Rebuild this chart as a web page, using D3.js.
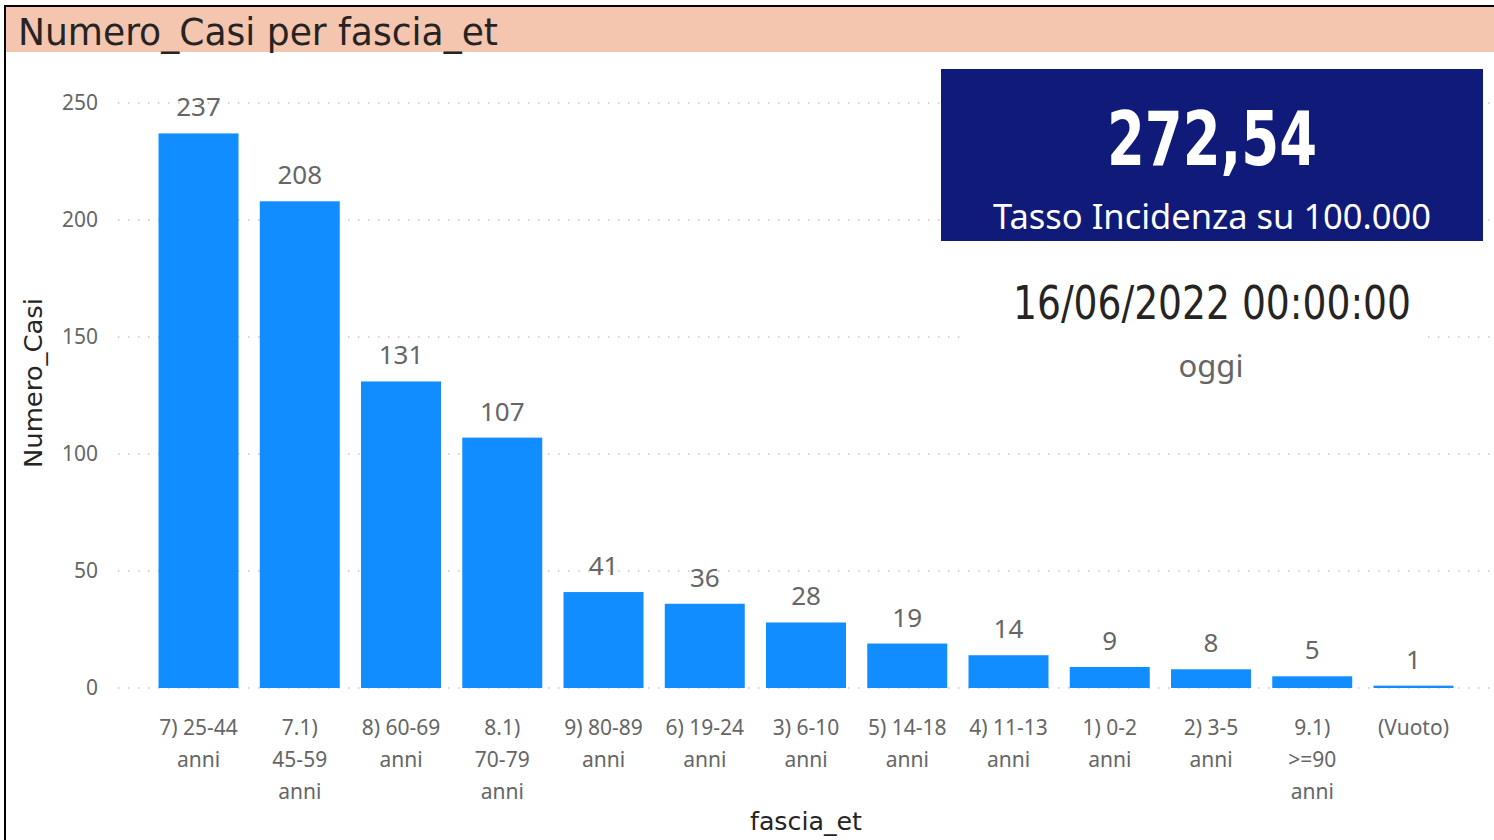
<!DOCTYPE html>
<html>
<head>
<meta charset="utf-8">
<script src="https://cdn.jsdelivr.net/npm/d3@7"></script>
<style>
	body { margin: 0; background: #fff; }
	svg { display: block; }
	.tick-label, .bar-label, .y-tick { font-family: "Segoe UI", "Noto Sans", sans-serif; fill: #666; }
	.din { font-family: "DejaVu Sans Condensed", "DejaVu Sans", sans-serif; }
</style>
</head>
<body>
<script>
// data
const categories = ["7) 25-44 anni", "7.1) 45-59 anni", "8) 60-69 anni", "8.1) 70-79 anni", "9) 80-89 anni",
	"6) 19-24 anni", "3) 6-10 anni", "5) 14-18 anni", "4) 11-13 anni", "1) 0-2 anni", "2) 3-5 anni",
	"9.1) >=90 anni", "(Vuoto)"];
const values = [237, 208, 131, 107, 41, 36, 28, 19, 14, 9, 8, 5, 1];
const yTicks = [0, 50, 100, 150, 200, 250];
const kpiValue = "272,54";
const kpiLabel = "Tasso Incidenza su 100.000";
const dateText = "16/06/2022 00:00:00";
const dateLabel = "oggi";

const W = 1494, H = 840;
const svg = d3.select("body").append("svg").attr("width", W).attr("height", H);

// frame + title band
svg.append("rect").attr("x", 5).attr("y", 6).attr("width", W + 10).attr("height", H + 10)
	.attr("fill", "#fff").attr("stroke", "#000").attr("stroke-width", 2);
svg.append("rect").attr("x", 6).attr("y", 7).attr("width", W).attr("height", 45).attr("fill", "#F4C5AF");
svg.append("text").attr("class", "din").attr("x", 18).attr("y", 45)
	.attr("font-size", 37).attr("fill", "#252423")
	.attr("textLength", 480).attr("lengthAdjust", "spacingAndGlyphs")
	.text("Numero_Casi per fascia_et");

// scales
const x = d3.scaleBand().domain(categories).range([148.4, 1463.6]).paddingInner(0.21).paddingOuter(0.1);
const y = d3.scaleLinear().domain([0, 250]).range([688, 103]);

// gridlines
svg.append("g")
	.selectAll("line").data(yTicks).enter()
	.append("line")
		.attr("x1", 118).attr("x2", 1492)
		.attr("y1", (d) => y(d)).attr("y2", (d) => y(d))
		.attr("stroke", "#c8c8c8").attr("stroke-width", 1.5)
		.attr("stroke-dasharray", "1.5,8.5");

svg.append("g")
	.selectAll("text").data(yTicks).enter()
	.append("text")
		.attr("class", "y-tick")
		.attr("x", 98).attr("y", (d) => y(d) + 7)
		.attr("text-anchor", "end").attr("font-size", 21)
		.text((d) => d);

// bars
svg.append("g")
	.selectAll("rect").data(values).enter()
	.append("rect")
		.attr("x", (d, i) => x(categories[i]))
		.attr("y", (d) => y(d))
		.attr("width", x.bandwidth())
		.attr("height", (d) => y(0) - y(d))
		.attr("fill", "#118DFF");

svg.append("g")
	.selectAll("text").data(values).enter()
	.append("text")
		.attr("class", "bar-label")
		.attr("x", (d, i) => x(categories[i]) + x.bandwidth() / 2)
		.attr("y", (d) => y(d) - 17)
		.attr("text-anchor", "middle").attr("font-size", 26)
		.text((d) => d);

// x labels, wrapped
const xl = svg.append("g")
	.selectAll("text").data(categories).enter()
	.append("text")
		.attr("class", "tick-label")
		.attr("text-anchor", "middle").attr("font-size", 21)
		.attr("y", 735);
xl.each(function(d) {
	const t = d3.select(this);
	const cx = x(d) + x.bandwidth() / 2;
	const words = d.split(" ");
	const lines = [];
	let line = [];
	const tmp = t.append("tspan");
	words.forEach((w) => {
		const test = line.concat([w]).join(" ");
		tmp.text(test);
		if (line.length && tmp.node().getComputedTextLength() > 84) {
			lines.push(line.join(" "));
			line = [w];
		} else {
			line.push(w);
		}
	});
	lines.push(line.join(" "));
	tmp.remove();
	lines.forEach((l, i) => {
		t.append("tspan").attr("x", cx).attr("dy", i ? 32 : 0).text(l);
	});
});

// axis titles
svg.append("text").attr("class", "din")
	.attr("transform", "translate(42, 383) rotate(-90)")
	.attr("text-anchor", "middle").attr("font-size", 24).attr("fill", "#252423")
	.attr("textLength", 170).attr("lengthAdjust", "spacingAndGlyphs")
	.text("Numero_Casi");
svg.append("text").attr("class", "din")
	.attr("x", 806).attr("y", 830)
	.attr("text-anchor", "middle").attr("font-size", 24).attr("fill", "#252423")
	.attr("textLength", 112).attr("lengthAdjust", "spacingAndGlyphs")
	.text("fascia_et");

// KPI card
svg.append("rect").attr("x", 941).attr("y", 69).attr("width", 542).attr("height", 172).attr("fill", "#0F1A79");
svg.append("text").attr("class", "din")
	.attr("x", 1212).attr("y", 165).attr("text-anchor", "middle")
	.attr("font-size", 74).attr("font-weight", "bold").attr("fill", "#fff")
	.attr("textLength", 210).attr("lengthAdjust", "spacingAndGlyphs")
	.text(kpiValue);
svg.append("text")
	.attr("x", 1212).attr("y", 229).attr("text-anchor", "middle")
	.attr("font-family", "'Segoe UI', 'Noto Sans', sans-serif")
	.attr("font-size", 34).attr("fill", "#fff")
	.attr("textLength", 438).attr("lengthAdjust", "spacingAndGlyphs")
	.text(kpiLabel);

// date card
svg.append("rect").attr("x", 962).attr("y", 262).attr("width", 458).attr("height", 128).attr("fill", "#fff");
svg.append("text").attr("class", "din")
	.attr("x", 1212).attr("y", 319).attr("text-anchor", "middle")
	.attr("font-size", 46).attr("fill", "#252423")
	.attr("textLength", 398).attr("lengthAdjust", "spacingAndGlyphs")
	.text(dateText);
svg.append("text")
	.attr("x", 1211).attr("y", 377).attr("text-anchor", "middle")
	.attr("font-family", "'Segoe UI', 'Noto Sans', sans-serif")
	.attr("font-size", 31).attr("fill", "#666")
	.text(dateLabel);
</script>
</body>
</html>
